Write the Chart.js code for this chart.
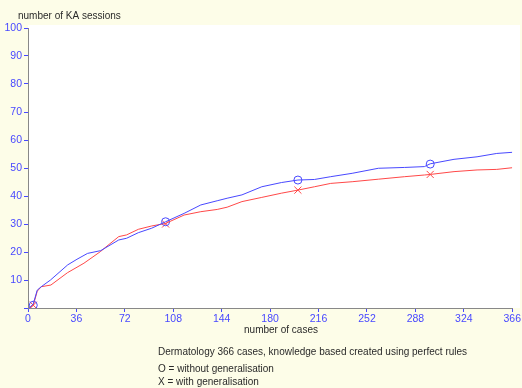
<!DOCTYPE html>
<html>
<head>
<meta charset="utf-8">
<script src="https://cdn.jsdelivr.net/npm/chart.js@4/dist/chart.umd.min.js"></script>
<style>
    html, body { margin: 0; padding: 0; background: #fdfde8; }
    #wrap { width: 522px; height: 388px; }
</style>
</head>
<body>
<div id="wrap"><canvas id="kaChart" width="522" height="388"></canvas></div>
<script>
// number of cases vs number of KA sessions
const withoutX = [1, 4, 7, 10, 17, 30, 37, 45, 55, 68.6, 74.5, 83.4, 93.5, 104, 118, 130.6, 143, 150.5, 161.7, 176.7, 191.5, 204, 216.5, 228.8, 245, 264.8, 284.7, 299.6, 304, 322, 339.4, 354.3, 366];
const withoutY = [0, 1.5, 6.4, 7.6, 10, 15.4, 17.4, 19.5, 20.5, 24.3, 24.9, 26.9, 28.5, 30.8, 33.8, 36.8, 38.3, 39.2, 40.4, 43.3, 44.8, 45.7, 45.9, 46.9, 48.1, 49.9, 50.2, 50.5, 51.5, 53.1, 54, 55.2, 55.6];

const withX = [1, 4, 7, 10, 17.3, 29.8, 42.3, 54.6, 59.7, 68.6, 74.5, 83.4, 93.5, 104, 118, 130.6, 143, 150.5, 161.7, 176.7, 191.5, 204, 216.5, 228.8, 245, 264.8, 284.7, 299.6, 304, 322, 339.4, 354.3, 366];
const withY = [0, 1, 6, 7.6, 8.2, 12.6, 16, 20.1, 22.1, 25.5, 26.1, 28.1, 29.3, 30.2, 33.2, 34.4, 35.2, 36, 38, 39.5, 41, 42.1, 43.3, 44.5, 45.1, 46, 46.9, 47.5, 47.7, 48.7, 49.3, 49.5, 50.1];

// markers every 100 cases
const markerX = [4, 104, 204, 304];
const markerWithoutY = [1, 30.8, 45.7, 51.4];
const markerWithY = [1, 30, 42.1, 47.7];

const xTickLabels = ['0', '36', '72', '108', '144', '180', '216', '252', '288', '324', '366'];
const yTickLabels = ['', '10', '20', '30', '40', '50', '60', '70', '80', '90', '100'];

const blue = '#4848ff';
const red = '#ff4848';

function toPoints(xs, ys) {
    return xs.map((x, i) => ({ x: x, y: ys[i] }));
}

// white plot background and the loose texts
const decorPlugin = {
    id: 'decor',
    beforeDraw(chart) {
        const ctx = chart.ctx;
        const a = chart.chartArea;
        ctx.save();
        ctx.fillStyle = '#fdfde8';
        ctx.fillRect(0, 0, chart.width, chart.height);
        ctx.fillStyle = '#ffffff';
        ctx.fillRect(a.left, 25, 520 - a.left, a.bottom - 25);
        ctx.restore();
    },
    afterDraw(chart) {
        const ctx = chart.ctx;
        ctx.save();
        ctx.fillStyle = '#2a2a2a';
        ctx.font = '10px "Liberation Sans", Arial, sans-serif';
        ctx.textBaseline = 'middle';
        ctx.textAlign = 'left';
        ctx.fillText('number of KA sessions', 18, 16);
        ctx.textAlign = 'center';
        ctx.fillText('number of cases', 281, 330);
        ctx.textAlign = 'left';
        ctx.fillText('Dermatology 366 cases, knowledge based created using perfect rules', 158, 352);
        ctx.fillText('O = without generalisation', 158, 369);
        ctx.fillText('X = with generalisation', 158, 382);
        ctx.restore();
    }
};

const ctx = document.getElementById('kaChart').getContext('2d');
new Chart(ctx, {
    type: 'scatter',
    data: {
        datasets: [
            {
                label: 'without generalisation',
                data: toPoints(withoutX, withoutY),
                showLine: true,
                borderColor: blue,
                borderWidth: 1,
                pointRadius: 0,
                tension: 0,
            },
            {
                label: 'with generalisation',
                data: toPoints(withX, withY),
                showLine: true,
                borderColor: red,
                borderWidth: 1,
                pointRadius: 0,
                tension: 0,
            },
            {
                label: 'O',
                data: toPoints(markerX, markerWithoutY),
                pointStyle: 'circle',
                pointRadius: 4,
                borderColor: blue,
                backgroundColor: 'rgba(0,0,0,0)',
                borderWidth: 1,
            },
            {
                label: 'X',
                data: toPoints(markerX, markerWithY),
                pointStyle: 'cross',
                rotation: 45,
                pointRadius: 5,
                borderColor: red,
                borderWidth: 1,
            },
        ],
    },
    options: {
        responsive: false,
        animation: false,
        layout: { padding: { top: 28, right: 3, left: 0, bottom: 0 } },
        plugins: {
            legend: { display: false },
            tooltip: { enabled: false },
        },
        scales: {
            x: {
                type: 'linear',
                min: 0,
                max: 366,
                afterBuildTicks: (scale) => {
                    scale.ticks = xTickLabels.map((_, i) => ({ value: i * 36.6 }));
                },
                afterFit: (scale) => { scale.height = 80; },
                ticks: {
                    color: blue,
                    font: { size: 10.5, family: '"Liberation Sans", Arial, sans-serif' },
                    padding: 1,
                    maxRotation: 0,
                    autoSkip: false,
                    callback: (value, index) => xTickLabels[index],
                },
                grid: { drawOnChartArea: false, tickLength: 4, tickColor: blue },
                border: { color: '#888888', width: 1 },
            },
            y: {
                min: 0,
                max: 100,
                afterBuildTicks: (scale) => {
                    scale.ticks = yTickLabels.map((_, i) => ({ value: i * 10 }));
                },
                afterFit: (scale) => { scale.width = 28; },
                ticks: {
                    color: blue,
                    font: { size: 10.5, family: '"Liberation Sans", Arial, sans-serif' },
                    padding: 2,
                    callback: (value, index) => yTickLabels[index],
                },
                grid: { drawOnChartArea: false, tickLength: 4, tickColor: blue },
                border: { color: '#888888', width: 1 },
            },
        },
    },
    plugins: [decorPlugin],
});
</script>
</body>
</html>
